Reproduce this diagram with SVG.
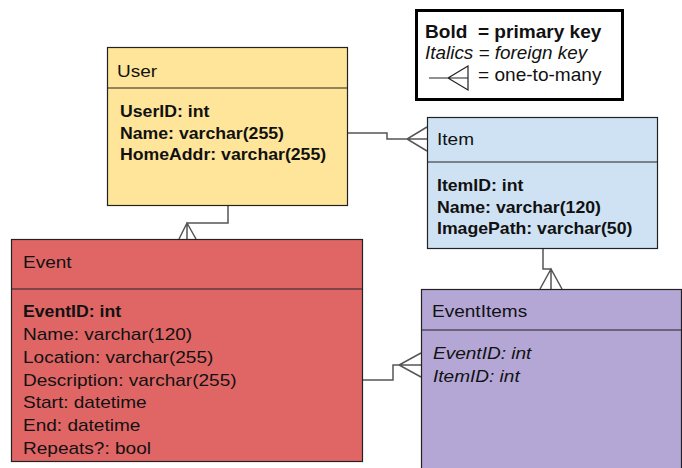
<svg xmlns="http://www.w3.org/2000/svg" width="682" height="468" viewBox="0 0 682 468">
<style>
  text { font-family: "Liberation Sans", Arial, sans-serif; font-size: 17px; fill: #111; }
  .b { font-weight: bold; }
  .i { font-style: italic; }
  .lg { font-size: 18px; }
  .box { stroke: #222; stroke-width: 1.2; }
  .div { stroke: #222; stroke-width: 1.2; }
  .conn { fill: none; stroke: #555; stroke-width: 1.5; }
</style>
<rect width="682" height="468" fill="#fff"/>

<g id="legend">
  <rect x="416.5" y="10.5" width="206" height="89" fill="#fff" stroke="#000" stroke-width="3"/>
  <text class="b lg" transform="translate(425,38) scale(1.06,1)">Bold&#160; = primary key</text>
  <text class="i lg" transform="translate(425,59) scale(1.05,1)">Italics = foreign key</text>
  <path d="M429,78 H468 M468,66 L448,78 L468,90 Z" fill="none" stroke="#222" stroke-width="1.2"/>
  <text class="lg" transform="translate(478,81) scale(1.06,1)">= one-to-many</text>
</g>

<g id="connectors">
  <path class="conn" d="M228,206 V223 H187 V239 M179,239 L187,223 L196,239"/>
  <path class="conn" d="M348,133 H387 V139 H427 M427,127 L407,139 L427,151"/>
  <path class="conn" d="M543,249 V269 H551 V289 M540,289 L551,269 L562,289"/>
  <path class="conn" d="M363,380 H393 V365 H421 M421,353 L399,365 L421,377"/>
</g>

<g id="user">
  <rect class="box" x="107.5" y="47.5" width="240" height="158" fill="#ffe599"/>
  <line class="div" x1="107.5" y1="88" x2="347.5" y2="88"/>
  <text transform="translate(117,77) scale(1.12,1)">User</text>
  <text class="b" transform="translate(120,117) scale(1.04,1)">UserID: int</text>
  <text class="b" transform="translate(120,139) scale(1.04,1)">Name: varchar(255)</text>
  <text class="b" transform="translate(120,160) scale(1.04,1)">HomeAddr: varchar(255)</text>
</g>

<g id="item">
  <rect class="box" x="427.5" y="117.5" width="230" height="131" fill="#cfe2f3"/>
  <line class="div" x1="427.5" y1="162" x2="657.5" y2="162"/>
  <text transform="translate(437,145) scale(1.12,1)">Item</text>
  <text class="b" transform="translate(437,191) scale(1.04,1)">ItemID: int</text>
  <text class="b" transform="translate(437,213) scale(1.04,1)">Name: varchar(120)</text>
  <text class="b" transform="translate(437,234) scale(1.04,1)">ImagePath: varchar(50)</text>
</g>

<g id="event">
  <rect class="box" x="11.5" y="239.5" width="351" height="222" fill="#e06666"/>
  <line class="div" x1="11.5" y1="289" x2="362.5" y2="289"/>
  <text transform="translate(23,268) scale(1.12,1)">Event</text>
  <text class="b" transform="translate(23,317) scale(1.04,1)">EventID: int</text>
  <text transform="translate(23,340) scale(1.12,1)">Name: varchar(120)</text>
  <text transform="translate(23,363) scale(1.12,1)">Location: varchar(255)</text>
  <text transform="translate(23,386) scale(1.12,1)">Description: varchar(255)</text>
  <text transform="translate(23,408) scale(1.12,1)">Start: datetime</text>
  <text transform="translate(23,431) scale(1.12,1)">End: datetime</text>
  <text transform="translate(23,454) scale(1.12,1)">Repeats?: bool</text>
</g>

<g id="eventitems">
  <rect class="box" x="421.5" y="289.5" width="260" height="190" fill="#b4a7d6"/>
  <line class="div" x1="421.5" y1="330" x2="681.5" y2="330"/>
  <text transform="translate(432,317) scale(1.12,1)">EventItems</text>
  <text class="i" transform="translate(433,359) scale(1.12,1)">EventID: int</text>
  <text class="i" transform="translate(433,382) scale(1.12,1)">ItemID: int</text>
</g>
</svg>
